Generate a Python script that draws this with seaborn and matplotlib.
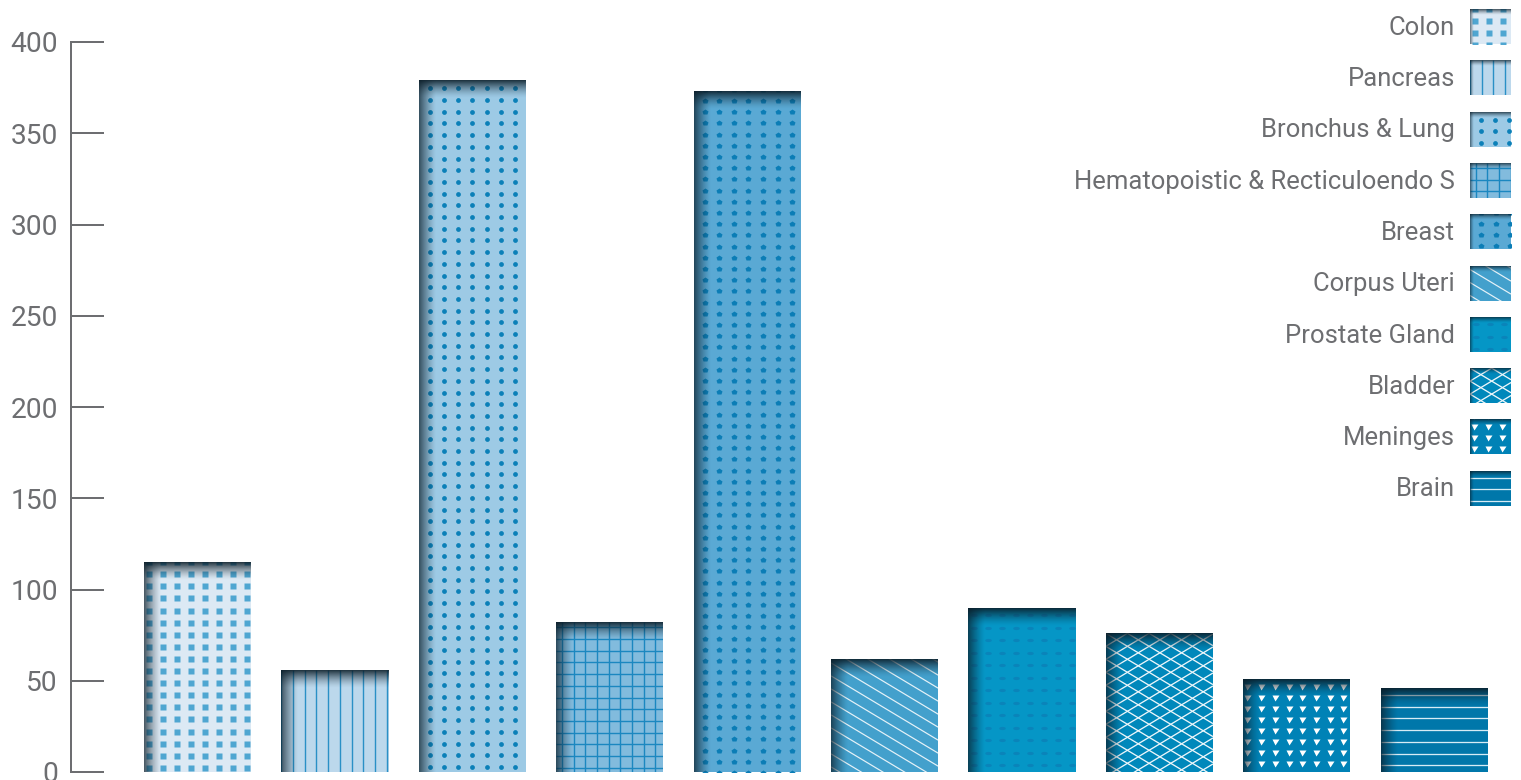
import numpy as np
import matplotlib
matplotlib.use("Agg")
import matplotlib.pyplot as plt
import seaborn as sns
from matplotlib.patches import Rectangle
from matplotlib.lines import Line2D
from matplotlib.collections import LineCollection
from matplotlib.path import Path
from matplotlib.legend_handler import HandlerBase

# ---------------- data ----------------
categories = ["Colon", "Pancreas", "Bronchus & Lung", "Hematopoistic & Recticuloendo S",
              "Breast", "Corpus Uteri", "Prostate Gland", "Bladder", "Meninges", "Brain"]
values = [115, 56, 379, 82, 373, 62, 90, 76, 51, 46]
y_ticks = [0, 50, 100, 150, 200, 250, 300, 350, 400]

# ---------------- style ----------------
bar_colors = ['#dce9f4', '#bcd8ec', '#9dcae5', '#82bbdd', '#5aa9d4',
              '#43a0cc', '#0596c6', '#0088bb', '#0082b6', '#0077aa']

_circ = Path.unit_circle()
ELLIPSE = Path(_circ.vertices * np.array([1.0, 0.5]), _circ.codes)

patterns = [
    dict(kind='markers', marker='s', size=7, color='#4fa6d1', dx=14, dy=12.1, ox=5, oy=0),
    dict(kind='lines', fams=[(None, 11.7, 0)], color='#2a90c6', lw=1.4),
    dict(kind='markers', marker='o', size=4.8, color='#0b80b8', dx=14.2, dy=11.7, ox=11, oy=8),
    dict(kind='lines', fams=[(None, 11.7, 5.7), (0.0, 11.7, 5)], color='#1b87c0', lw=1.4),
    dict(kind='markers', marker='p', size=5.8, color='#0b7db6', dx=14.6, dy=11.2, ox=11, oy=9.7),
    dict(kind='lines', fams=[(0.6, 13.0, 4)], color='#e6f2f8', lw=1.2),
    dict(kind='markers', marker=ELLIPSE, size=6.5, color='#0a84ba', dx=14, dy=12.5, ox=6, oy=7.3),
    dict(kind='lines', fams=[(0.6, 13.0, 0), (-0.6, 13.0, 0)], color='#eef7fb', lw=1.3),
    dict(kind='markers', marker='v', size=7, color='#ffffff', dx=13.7, dy=11, ox=4.3, oy=7.7),
    dict(kind='lines', fams=[(0.0, 11.7, 7)], color='#d6ecf6', lw=1.3),
]

TEXT = '#6d6e71'
SHADE = '#0b1d28'
DPI = 70
W_PX, H_PX = 1521, 780
PT = 72.0 / DPI  # points per pixel


def pattern_artists(spec, X0, Y0, W, H, sx, sy, trans):
    Wp, Hp = W / sx, H / sy
    top = Y0 + H
    arts = []
    if spec['kind'] == 'markers':
        dx, dy = spec['dx'], spec['dy']
        xs = np.arange(spec['ox'] - dx, Wp + dx, dx)
        ys = np.arange(spec['oy'] - dy, Hp + dy, dy)
        gx, gy = np.meshgrid(xs, ys)
        arts.append(Line2D(X0 + gx.ravel() * sx, top - gy.ravel() * sy, ls='none',
                           marker=spec['marker'], markersize=spec['size'] * PT,
                           markerfacecolor=spec['color'], markeredgecolor='none',
                           transform=trans))
    else:
        segs = []
        for slope, period, off in spec['fams']:
            if slope is None:
                for x in np.arange(off - period, Wp + period, period):
                    segs.append([(X0 + x * sx, Y0), (X0 + x * sx, top)])
            else:
                span = slope * Wp
                cmin = -max(span, 0) - period
                cmax = Hp - min(span, 0) + period
                k0 = np.floor((cmin - off) / period)
                k1 = np.ceil((cmax - off) / period)
                for k in np.arange(k0, k1 + 1):
                    c = off + k * period
                    segs.append([(X0, top - c * sy), (X0 + Wp * sx, top - (c + span) * sy)])
        arts.append(LineCollection(segs, colors=spec['color'], linewidths=spec['lw'] * PT,
                                   transform=trans))
    return arts


def shade_artists(X0, Y0, W, H, sx, sy, trans, top_len=18, left_len=17, top_a=0.9, left_a=0.72):
    arts = []
    top = Y0 + H
    for i in range(int(top_len)):
        a = top_a * (1 - (i + 0.5) / top_len) ** 1.5
        arts.append(Rectangle((X0, top - (i + 1) * sy), W, sy, facecolor=SHADE, alpha=a,
                              lw=0, transform=trans))
    for j in range(int(left_len)):
        a = left_a * (1 - (j + 0.5) / left_len) ** 1.3
        arts.append(Rectangle((X0 + j * sx, Y0), sx, H, facecolor=SHADE, alpha=a,
                              lw=0, transform=trans))
    return arts


# ---------------- figure ----------------
sns.set_theme(style='white')
plt.rcParams['font.family'] = ['Roboto', 'DejaVu Sans']

fig = plt.figure(figsize=(W_PX / DPI, H_PX / DPI), dpi=DPI)
ax = fig.add_axes([71 / W_PX, 8 / H_PX, 1450 / W_PX, 730 / H_PX])

sns.barplot(x=categories, y=values, hue=categories, palette=bar_colors, saturation=1,
            width=0.78, legend=False, linewidth=0, edgecolor='none', ax=ax)

rects = sorted(ax.patches, key=lambda p: p.get_x())

ax.set_autoscale_on(False)
ax.set_xlim(-0.9207, 9.632)
ax.set_ylim(0, 400)

p0 = ax.transData.transform((0, 0))
p1 = ax.transData.transform((1, 1))
sx = 1.0 / (p1[0] - p0[0])
sy = 1.0 / (p1[1] - p0[1])

for i, r in enumerate(rects):
    r.set_zorder(2)
    X0, Y0, W, H = r.get_x(), r.get_y(), r.get_width(), r.get_height()
    for a in pattern_artists(patterns[i], X0, Y0, W, H, sx, sy, ax.transData):
        a.set_zorder(3)
        if isinstance(a, Line2D):
            ax.add_line(a)
        else:
            ax.add_collection(a, autolim=False)
        a.set_clip_path(r)
    for a in shade_artists(X0, Y0, W, H, sx, sy, ax.transData):
        a.set_zorder(4)
        ax.add_patch(a)
        a.set_clip_path(r)

ax.set_xlim(-0.9207, 9.632)
ax.set_ylim(0, 400)

# axes styling
for s in ['top', 'right', 'bottom']:
    ax.spines[s].set_visible(False)
ax.spines['left'].set_color(TEXT)
ax.spines['left'].set_linewidth(2 * PT)
ax.set_xticks([])
ax.set_yticks(y_ticks)
ax.set_yticklabels([str(v) for v in y_ticks])
ax.tick_params(axis='y', direction='in', length=33 * PT, width=2 * PT, color=TEXT,
               labelcolor=TEXT, labelsize=28.9, pad=13.5, left=True)
ax.set_xlabel('')
ax.set_ylabel('')
ax.grid(False)


# ---------------- legend ----------------
class PatternHandler(HandlerBase):
    def __init__(self, idx):
        super().__init__()
        self.idx = idx

    def legend_artist(self, legend, orig_handle, fontsize, handlebox):
        xd, yd, w, h = self.adjust_drawing_area(legend, orig_handle, handlebox.xdescent,
                                                handlebox.ydescent, handlebox.width,
                                                handlebox.height, fontsize)
        trans = handlebox.get_transform()
        rect = Rectangle((-xd, -yd), w, h, facecolor=bar_colors[self.idx], edgecolor='none',
                         lw=0, transform=trans)
        arts = [rect]
        arts += pattern_artists(patterns[self.idx], -xd, -yd, w, h, PT, PT, trans)
        arts += shade_artists(-xd, -yd, w, h, PT, PT, trans, top_len=6, left_len=4,
                              top_a=0.75, left_a=0.6)
        for a in arts:
            handlebox.add_artist(a)
        for a in arts[1:]:
            a.set_clip_path(rect)
        return rect


proxies = [Rectangle((0, 0), 1, 1) for _ in categories]
hmap = {h: PatternHandler(i) for i, h in enumerate(proxies)}
leg_fs = 26.3
sw_h = 35 * PT                     # swatch height in points
hh = (sw_h / leg_fs - 0.245) / 0.65  # matplotlib reduces handle height by its descent
ax.legend(proxies, categories, handler_map=hmap, loc='upper right',
          bbox_to_anchor=(1511 / W_PX, 1 - 9 / H_PX), bbox_transform=fig.transFigure,
          frameon=False, markerfirst=False, fontsize=leg_fs, labelcolor=TEXT,
          handlelength=41 * PT / leg_fs, handleheight=hh,
          handletextpad=15 * PT / leg_fs, labelspacing=(51.3 - 35) * PT / leg_fs,
          borderpad=0, borderaxespad=0)

fig.savefig('out.png', dpi=DPI)
